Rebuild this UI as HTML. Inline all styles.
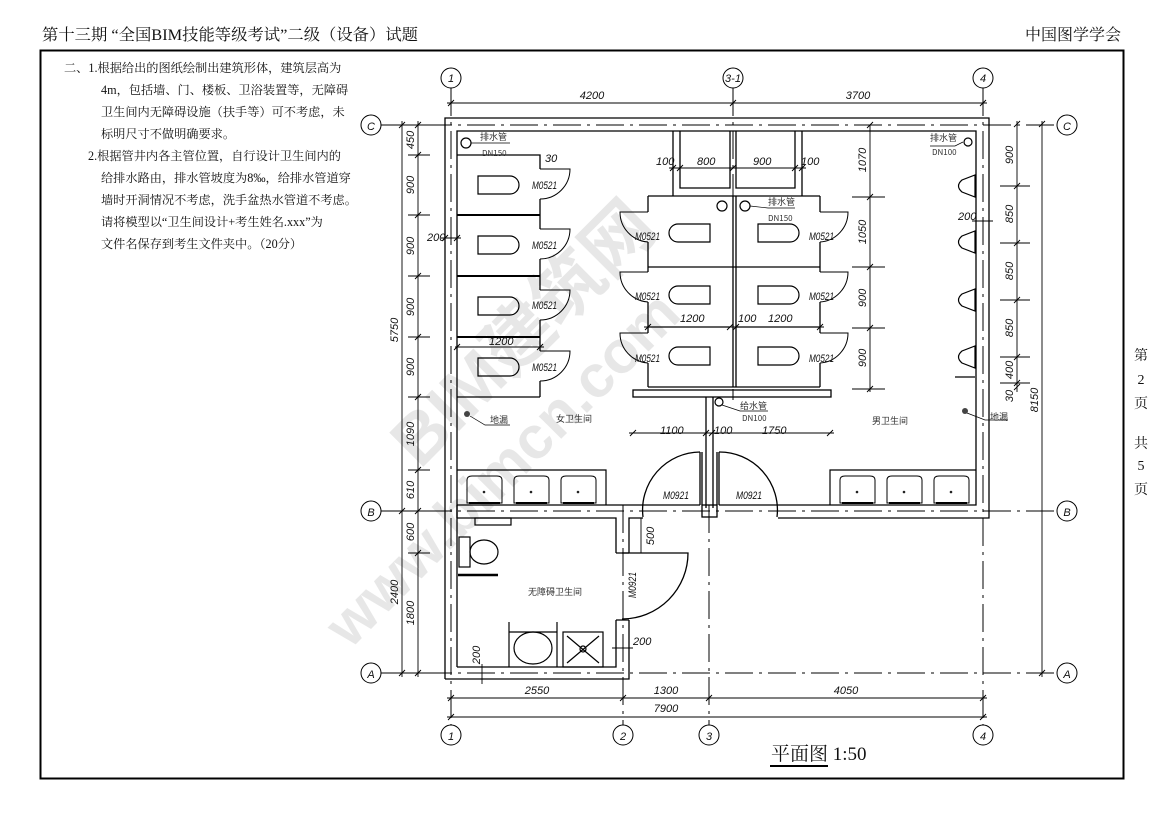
<!DOCTYPE html>
<html><head><meta charset="utf-8"><style>
html,body{margin:0;padding:0;background:#fff;}
svg{display:block;}
.t{font-family:"Liberation Serif","Noto Serif CJK SC","Noto Sans CJK SC",serif;fill:#111;}
.d{font-family:"Liberation Sans Narrow","Liberation Sans",sans-serif;font-style:italic;font-size:11px;fill:#111;}
.c{font-family:"Noto Sans CJK SC","WenQuanYi Zen Hei",sans-serif;font-size:9px;fill:#333;}
</style></head><body>
<svg width="1169" height="826" viewBox="0 0 1169 826" xmlns="http://www.w3.org/2000/svg">
<rect width="1169" height="826" fill="#fff"/>
<text class="t" x="42" y="40" font-size="16" textLength="376" lengthAdjust="spacingAndGlyphs">第十三期 “全国BIM技能等级考试”二级（设备）试题</text>
<text class="t" x="1025" y="40" font-size="16">中国图学学会</text>
<rect x="40.5" y="50.5" width="1083" height="728" fill="none" stroke="#000" stroke-width="2"/>
<g class="t" font-size="12.2">
<text x="64" y="72">二、1.根据给出的图纸绘制出建筑形体，建筑层高为</text>
<text x="101" y="94">4m，包括墙、门、楼板、卫浴装置等，无障碍</text>
<text x="101" y="116">卫生间内无障碍设施（扶手等）可不考虑，未</text>
<text x="101" y="138">标明尺寸不做明确要求。</text>
<text x="88" y="160">2.根据管井内各主管位置，自行设计卫生间内的</text>
<text x="101" y="182">给排水路由，排水管坡度为8‰，给排水管道穿</text>
<text x="101" y="204">墙时开洞情况不考虑，洗手盆热水管道不考虑。</text>
<text x="101" y="226">请将模型以“卫生间设计+考生姓名.xxx”为</text>
<text x="101" y="248">文件名保存到考生文件夹中。（20分）</text>
</g>
<g class="t" font-size="14" text-anchor="middle">
<text x="1141" y="360">第</text><text x="1141" y="384">2</text><text x="1141" y="408">页</text>
<text x="1141" y="448">共</text><text x="1141" y="470">5</text><text x="1141" y="494">页</text>
</g>

<g opacity="0.09" font-family="Liberation Sans,Noto Sans CJK SC,sans-serif" font-weight="bold" fill="#000">
<text x="420" y="470" font-size="70" transform="rotate(-45 420 470)">BIM建筑网</text>
<text x="350" y="650" font-size="60" transform="rotate(-45 350 650)">www.bimcn.com</text>
</g>

<g stroke="#000" stroke-width="1" stroke-dasharray="28,6,3,6" fill="none">
<line x1="381" y1="125" x2="1057" y2="125"/>
<line x1="381" y1="511" x2="1057" y2="511"/>
<line x1="381" y1="673" x2="1057" y2="673"/>
<line x1="451" y1="88" x2="451" y2="725"/>
<line x1="733" y1="88" x2="733" y2="400"/>
<line x1="983" y1="88" x2="983" y2="725"/>
<line x1="623" y1="505" x2="623" y2="725"/>
<line x1="709" y1="505" x2="709" y2="725"/>
</g>
<g fill="#fff" stroke="#000" stroke-width="1">
<circle cx="451" cy="78" r="10"/><circle cx="733" cy="78" r="10"/><circle cx="983" cy="78" r="10"/>
<circle cx="451" cy="735" r="10"/><circle cx="623" cy="735" r="10"/><circle cx="709" cy="735" r="10"/><circle cx="983" cy="735" r="10"/>
<circle cx="371" cy="125" r="10"/><circle cx="371" cy="511" r="10"/><circle cx="371" cy="673" r="10"/>
<circle cx="1067" cy="125" r="10"/><circle cx="1067" cy="511" r="10"/><circle cx="1067" cy="673" r="10"/>
</g>
<g class="d" font-size="12" text-anchor="middle">
<text x="451" y="82">1</text><text x="733" y="82">3-1</text><text x="983" y="82">4</text>
<text x="451" y="740">1</text><text x="623" y="740">2</text><text x="709" y="740">3</text><text x="983" y="740">4</text>
<text x="371" y="130">C</text><text x="371" y="516">B</text><text x="371" y="678">A</text>
<text x="1067" y="130">C</text><text x="1067" y="516">B</text><text x="1067" y="678">A</text>
</g>

<g stroke="#000" stroke-width="1.3" fill="none">
<path d="M445 679 V118 H989 V518 H778"/>
<path d="M457 667 V131 H976 V505 H778"/>
<path d="M445 679 H629 V620"/>
<path d="M457 667 H616 V620"/>
<path d="M629 553 V518 H643"/>
<path d="M616 553 V518 H457"/>
<path d="M457 505 H643"/>
<path d="M457 518 V505"/>
<path d="M706 397 V508 M713 397 V508"/>
<rect x="702" y="505" width="15" height="12"/>
<path d="M702 452 V505 M700 452 V505"/>
<path d="M700 452 A58 58 0 0 0 643 517"/>
<path d="M717 452 V505 M719 452 V505"/>
<path d="M719 452 A58 58 0 0 1 777 517"/>
<path d="M643 505 H700 M719 505 H778"/>
<path d="M622 553 H688 A66 66 0 0 1 622 619"/>
<path d="M616 553 H629 M616 620 H629"/>
<path d="M673 131 V196 M680 131 V188 H730 V131 M736 131 V188 H795 V131 M802 131 V196"/>
<path d="M457 155 H540 V169 M540 199 V229 M540 259 V290 M540 320 V351 M540 381 V397"/>
<path d="M457 215 H540 M457 276 H540 M457 337 H540" stroke-width="2"/>
<path d="M457 397 H540"/>
<path d="M648 196 H820 M733 196 V387 M736 196 V387 M648 196 V212 M648 242 V272 M648 302 V333 M648 363 V387 M820 196 V212 M820 242 V272 M820 302 V333 M820 363 V387"/>
<path d="M648 267 H820 M648 327 H730 M736 327 H820 M648 387 H820"/>
<rect x="633" y="390" width="198" height="7"/>
<path d="M955 377 H975"/>
</g>
<g stroke="#000" stroke-width="1" fill="none">
<path d="M540 169 H570 A30 30 0 0 1 540 199"/>
<path d="M540 229 H570 A30 30 0 0 1 540 259"/>
<path d="M540 290 H570 A30 30 0 0 1 540 320"/>
<path d="M540 351 H570 A30 30 0 0 1 540 381"/>
<path d="M648 212 H620 A30 30 0 0 0 648 242"/>
<path d="M648 272 H620 A30 30 0 0 0 648 302"/>
<path d="M648 333 H620 A30 30 0 0 0 648 363"/>
<path d="M820 212 H848 A30 30 0 0 1 820 242"/>
<path d="M820 272 H848 A30 30 0 0 1 820 302"/>
<path d="M820 333 H848 A30 30 0 0 1 820 363"/>
</g>
<g stroke="#000" stroke-width="1.2" fill="none">
<path d="M478 176 H510 A9 9 0 0 1 510 194 H478 Z"/>
<path d="M478 236 H510 A9 9 0 0 1 510 254 H478 Z"/>
<path d="M478 297 H510 A9 9 0 0 1 510 315 H478 Z"/>
<path d="M478 358 H510 A9 9 0 0 1 510 376 H478 Z"/>
<path d="M710 224 H678 A9 9 0 0 0 678 242 H710 Z"/>
<path d="M710 286 H678 A9 9 0 0 0 678 304 H710 Z"/>
<path d="M710 347 H678 A9 9 0 0 0 678 365 H710 Z"/>
<path d="M758 224 H790 A9 9 0 0 1 790 242 H758 Z"/>
<path d="M758 286 H790 A9 9 0 0 1 790 304 H758 Z"/>
<path d="M758 347 H790 A9 9 0 0 1 790 365 H758 Z"/>
<path d="M975 175 V197 L962 192 Q955 186 962 180 Z"/>
<path d="M975 231 V253 L962 248 Q955 242 962 236 Z"/>
<path d="M975 289 V311 L962 306 Q955 300 962 294 Z"/>
<path d="M975 346 V368 L962 363 Q955 357 962 351 Z"/>
<path d="M457 470 H606 V505"/>
<path d="M976 470 H830 V505"/>
</g>
<g stroke="#000" stroke-width="1" fill="none">
<path d="M467 480 Q467 476 472 476 H497 Q502 476 502 480 V503 H467 Z M514 480 Q514 476 519 476 H544 Q549 476 549 480 V503 H514 Z M561 480 Q561 476 566 476 H591 Q596 476 596 480 V503 H561 Z"/>
<path d="M840 480 Q840 476 845 476 H870 Q875 476 875 480 V503 H840 Z M887 480 Q887 476 892 476 H917 Q922 476 922 480 V503 H887 Z M934 480 Q934 476 939 476 H964 Q969 476 969 480 V503 H934 Z"/>
<path d="M469 503 H500 M516 503 H547 M563 503 H594 M842 503 H873 M889 503 H920 M936 503 H967" stroke-width="2"/>
</g>
<g fill="#222"><circle cx="484" cy="492" r="1.3"/><circle cx="531" cy="492" r="1.3"/><circle cx="578" cy="492" r="1.3"/><circle cx="857" cy="492" r="1.3"/><circle cx="904" cy="492" r="1.3"/><circle cx="951" cy="492" r="1.3"/></g>
<g stroke="#000" stroke-width="1.2" fill="none">
<rect x="475" y="518" width="36" height="7"/>
<rect x="459" y="537" width="11" height="30"/>
<ellipse cx="484" cy="552" rx="14" ry="12"/>
<path d="M458 575 H498" stroke-width="2.5"/>
<path d="M509 622 V667 M557 622 V667 M509 632 H557"/>
<ellipse cx="533" cy="648" rx="19" ry="16"/>
<rect x="563" y="632" width="40" height="35"/>
<path d="M567 636 L599 663 M599 636 L567 663"/>
<circle cx="583" cy="649" r="3"/>
<circle cx="466" cy="143" r="5"/>
<circle cx="722" cy="206" r="5"/><circle cx="745" cy="206" r="5"/>
<circle cx="968" cy="142" r="4"/>
<circle cx="719" cy="402" r="4"/>
</g>
<g fill="#444"><circle cx="467" cy="414" r="3"/><circle cx="965" cy="411" r="3"/></g>
<g stroke="#000" stroke-width="0.7" fill="none">
<path d="M471 143 H510 M750 206 L768 208 H795 M963 142 L955 146 H930 M722 405 L740 411 H768 M470 416 L485 425 H510 M967 413 L985 420 H1008"/>
</g>
<g class="c">
<text x="480" y="140">排水管</text><text x="482" y="156" font-size="8">DN150</text>
<text x="768" y="205">排水管</text><text x="768" y="221" font-size="8">DN150</text>
<text x="930" y="141">排水管</text><text x="932" y="155" font-size="8">DN100</text>
<text x="740" y="409">给水管</text><text x="742" y="421" font-size="8">DN100</text>
<text x="490" y="423">地漏</text><text x="990" y="420">地漏</text>
<text x="556" y="422">女卫生间</text><text x="872" y="424">男卫生间</text>
<text x="528" y="595">无障碍卫生间</text>
</g>
<g class="d" font-size="10">
<text x="532" y="189" textLength="25" lengthAdjust="spacingAndGlyphs">M0521</text>
<text x="532" y="249" textLength="25" lengthAdjust="spacingAndGlyphs">M0521</text>
<text x="532" y="309" textLength="25" lengthAdjust="spacingAndGlyphs">M0521</text>
<text x="532" y="371" textLength="25" lengthAdjust="spacingAndGlyphs">M0521</text>
<text x="635" y="240" textLength="25" lengthAdjust="spacingAndGlyphs">M0521</text>
<text x="635" y="300" textLength="25" lengthAdjust="spacingAndGlyphs">M0521</text>
<text x="635" y="362" textLength="25" lengthAdjust="spacingAndGlyphs">M0521</text>
<text x="809" y="240" textLength="25" lengthAdjust="spacingAndGlyphs">M0521</text>
<text x="809" y="300" textLength="25" lengthAdjust="spacingAndGlyphs">M0521</text>
<text x="809" y="362" textLength="25" lengthAdjust="spacingAndGlyphs">M0521</text>
<text x="663" y="499" textLength="26" lengthAdjust="spacingAndGlyphs">M0921</text>
<text x="736" y="499" textLength="26" lengthAdjust="spacingAndGlyphs">M0921</text>
<text transform="translate(636 598) rotate(-90)" textLength="26" lengthAdjust="spacingAndGlyphs">M0921</text>
</g>

<g stroke="#000" stroke-width="0.9" fill="none">
<line x1="447" y1="103" x2="987" y2="103"/>
<line x1="447" y1="698" x2="987" y2="698"/>
<line x1="447" y1="717" x2="987" y2="717"/>
<line x1="402" y1="121" x2="402" y2="677"/>
<line x1="418" y1="121" x2="418" y2="677"/>
<line x1="1017" y1="121" x2="1017" y2="392"/>
<line x1="1042" y1="121" x2="1042" y2="677"/>
<line x1="392" y1="125" x2="440" y2="125"/>
<line x1="392" y1="511" x2="440" y2="511"/>
<line x1="392" y1="673" x2="440" y2="673"/>
<line x1="669" y1="168" x2="806" y2="168"/>
<line x1="644" y1="327" x2="824" y2="327"/>
<line x1="629" y1="433" x2="834" y2="433"/>
<line x1="455" y1="347" x2="544" y2="347"/>
<line x1="441" y1="238" x2="461" y2="238"/>
<line x1="972" y1="221" x2="993" y2="221"/>
<line x1="612" y1="648" x2="633" y2="648"/>
<line x1="482" y1="664" x2="482" y2="684"/>
<line x1="641" y1="518" x2="641" y2="553"/>
<path d="M448 106 L454 100 M730 106 L736 100 M980 106 L986 100
M448 701 L454 695 M620 701 L626 695 M706 701 L712 695 M980 701 L986 695
M448 720 L454 714 M980 720 L986 714
M399 128 L405 122 M399 514 L405 508 M399 676 L405 670
M415 128 L421 122 M415 158 L421 152 M415 218 L421 212 M415 279 L421 273 M415 340 L421 334 M415 400 L421 394 M415 473 L421 467 M415 514 L421 508 M415 556 L421 550 M415 676 L421 670
M1014 127 L1020 121 M1014 189 L1020 183 M1014 246 L1020 240 M1014 303 L1020 297 M1014 360 L1020 354 M1014 386 L1020 380 M1014 390 L1020 384
M1039 127 L1045 121 M1039 676 L1045 670
M867 128 L873 122 M867 200 L873 194 M867 270 L873 264 M867 331 L873 325 M867 392 L873 386
M670 171 L676 165 M677 171 L683 165 M730 171 L736 165 M792 171 L798 165 M799 171 L805 165
M645 330 L651 324 M727 330 L733 324 M733 330 L739 324 M817 330 L823 324
M630 436 L636 430 M703 436 L709 430 M709 436 L715 430 M827 436 L833 430
M454 350 L460 344 M537 350 L543 344 M442 241 L448 235 M454 241 L460 235"/>
<path d="M870 125 V392 M852 197 H885 M852 267 H885 M852 328 H885 M852 389 H885"/>
<path d="M1000 186 H1030 M1000 243 H1030 M1000 300 H1030 M1000 357 H1030 M1000 383 H1030"/>
<path d="M408 155 H430 M408 215 H430 M408 276 H430 M408 337 H430 M408 397 H430 M408 470 H430 M408 553 H430"/>
</g>
<g class="d">
<text x="592" y="99" text-anchor="middle">4200</text>
<text x="858" y="99" text-anchor="middle">3700</text>
<text x="537" y="694" text-anchor="middle">2550</text>
<text x="666" y="694" text-anchor="middle">1300</text>
<text x="846" y="694" text-anchor="middle">4050</text>
<text x="666" y="712" text-anchor="middle">7900</text>
<text x="656" y="165">100</text><text x="697" y="165">800</text><text x="753" y="165">900</text><text x="801" y="165">100</text>
<text x="680" y="322">1200</text><text x="738" y="322">100</text><text x="768" y="322">1200</text>
<text x="660" y="434">1100</text><text x="714" y="434">100</text><text x="762" y="434">1750</text>
<text x="489" y="345">1200</text>
<text x="427" y="241">200</text><text x="958" y="220">200</text><text x="633" y="645">200</text>
<text x="545" y="162">30</text>
<text transform="translate(398 330) rotate(-90)" text-anchor="middle">5750</text>
<text transform="translate(398 592) rotate(-90)" text-anchor="middle">2400</text>
<text transform="translate(414 140) rotate(-90)" text-anchor="middle">450</text>
<text transform="translate(414 185) rotate(-90)" text-anchor="middle">900</text>
<text transform="translate(414 246) rotate(-90)" text-anchor="middle">900</text>
<text transform="translate(414 307) rotate(-90)" text-anchor="middle">900</text>
<text transform="translate(414 367) rotate(-90)" text-anchor="middle">900</text>
<text transform="translate(414 434) rotate(-90)" text-anchor="middle">1090</text>
<text transform="translate(414 490) rotate(-90)" text-anchor="middle">610</text>
<text transform="translate(414 532) rotate(-90)" text-anchor="middle">600</text>
<text transform="translate(414 613) rotate(-90)" text-anchor="middle">1800</text>
<text transform="translate(866 160) rotate(-90)" text-anchor="middle">1070</text>
<text transform="translate(866 232) rotate(-90)" text-anchor="middle">1050</text>
<text transform="translate(866 298) rotate(-90)" text-anchor="middle">900</text>
<text transform="translate(866 358) rotate(-90)" text-anchor="middle">900</text>
<text transform="translate(1013 155) rotate(-90)" text-anchor="middle">900</text>
<text transform="translate(1013 214) rotate(-90)" text-anchor="middle">850</text>
<text transform="translate(1013 271) rotate(-90)" text-anchor="middle">850</text>
<text transform="translate(1013 328) rotate(-90)" text-anchor="middle">850</text>
<text transform="translate(1013 370) rotate(-90)" text-anchor="middle">400</text>
<text transform="translate(1013 396) rotate(-90)" text-anchor="middle">30</text>
<text transform="translate(1038 400) rotate(-90)" text-anchor="middle">8150</text>
<text transform="translate(654 536) rotate(-90)" text-anchor="middle">500</text>
<text transform="translate(480 655) rotate(-90)" text-anchor="middle">200</text>
</g>
<text class="t" x="771" y="760" font-size="19">平面图 1:50</text>
<line x1="770" y1="766" x2="828" y2="766" stroke="#000" stroke-width="2"/>
</svg>
</body></html>
